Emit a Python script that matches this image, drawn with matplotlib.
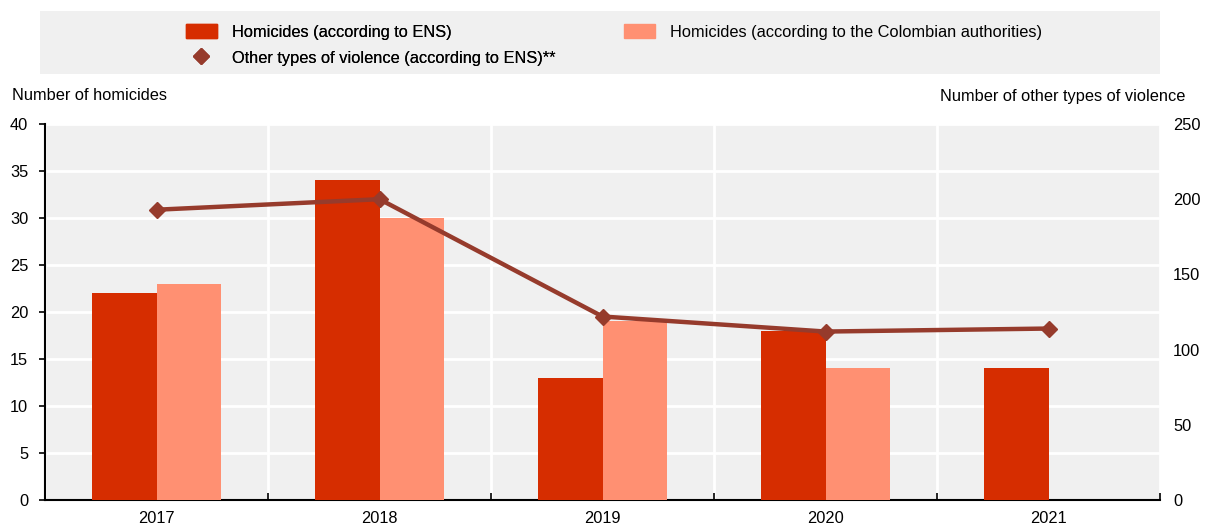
import numpy as np
import matplotlib
matplotlib.use("Agg")
import matplotlib.pyplot as plt
from matplotlib.patches import Rectangle, Patch
from matplotlib.lines import Line2D

plt.rcParams['font.family'] = ['Liberation Sans', 'DejaVu Sans']

years = ['2017', '2018', '2019', '2020', '2021']
hom_ens = [22, 34, 13, 18, 14]
hom_auth = [23, 30, 19, 14, np.nan]
other_violence = [193, 200, 122, 112, 114]

c_ens = '#D62D00'
c_auth = '#FF9072'
c_line = '#963B2C'
bg = '#F0F0F0'
fs = 11.8

fig = plt.figure(figsize=(12.06, 5.27), dpi=100)
ax = fig.add_axes([45 / 1206, 1 - 500 / 527, 1115 / 1206, 376 / 527])
ax.set_facecolor(bg)

x = np.arange(len(years))
w = 0.287
ax.bar(x - w / 2, hom_ens, w, color=c_ens, zorder=3)
ax.bar(x + w / 2, hom_auth, w, color=c_auth, zorder=3)

ax.set_xlim(-0.5, len(years) - 0.5)
ax.set_ylim(0, 40)
ax.set_yticks(range(0, 41, 5))
ax.set_xticks(x)
ax.set_xticklabels(years)
ax.set_xticks(np.arange(-0.5, len(years)), minor=True)
ax.tick_params(axis='x', which='major', length=0, pad=8, labelsize=fs)
ax.tick_params(axis='x', which='minor', length=5, width=1.2, direction='in')
ax.tick_params(axis='y', length=4, width=1.2, labelsize=fs, pad=8)
ax.grid(axis='y', color='white', lw=2, zorder=1)
ax.grid(axis='x', which='minor', color='white', lw=2, zorder=1)
for s in ['top', 'right']:
    ax.spines[s].set_visible(False)
for s in ['left', 'bottom']:
    ax.spines[s].set_linewidth(1.5)

ax2 = ax.twinx()
ax2.plot(x, other_violence, color=c_line, lw=3.2, marker='D', ms=8, zorder=4)
ax2.set_ylim(0, 250)
ax2.set_yticks(range(0, 251, 50))
ax2.tick_params(axis='y', length=0, labelsize=fs, pad=9.5)
for s in ['top', 'right', 'left', 'bottom']:
    ax2.spines[s].set_visible(False)

fig.text(12 / 1206, 1 - 96 / 527, 'Number of homicides', fontsize=fs, va='center', ha='left')
fig.text(1185 / 1206, 1 - 96 / 527, 'Number of other types of violence', fontsize=fs,
         va='center', ha='right')

# legend box
fig.patches.append(Rectangle((40 / 1206, 1 - 74 / 527), 1120 / 1206, 63 / 527,
                             transform=fig.transFigure, facecolor=bg, edgecolor='none', zorder=0))
h_ens = Patch(color=c_ens)
h_auth = Patch(color=c_auth)
h_line = Line2D([], [], color=c_line, lw=0, marker='D', ms=8)
leg_kw = dict(frameon=False, fontsize=fs, loc='upper left', handlelength=1.89,
              handleheight=0.98, handletextpad=0.9, labelspacing=0.6, borderpad=0,
              borderaxespad=0)
leg1 = fig.legend([h_ens, h_line],
                  ['Homicides (according to ENS)', 'Other types of violence (according to ENS)**'],
                  bbox_to_anchor=(186 / 1206, 1 - 24 / 527), **leg_kw)
fig.legend([h_auth], ['Homicides (according to the Colombian authorities)'],
           bbox_to_anchor=(624 / 1206, 1 - 24 / 527), **leg_kw)
fig.add_artist(leg1)

fig.savefig('out.png', dpi=100)
